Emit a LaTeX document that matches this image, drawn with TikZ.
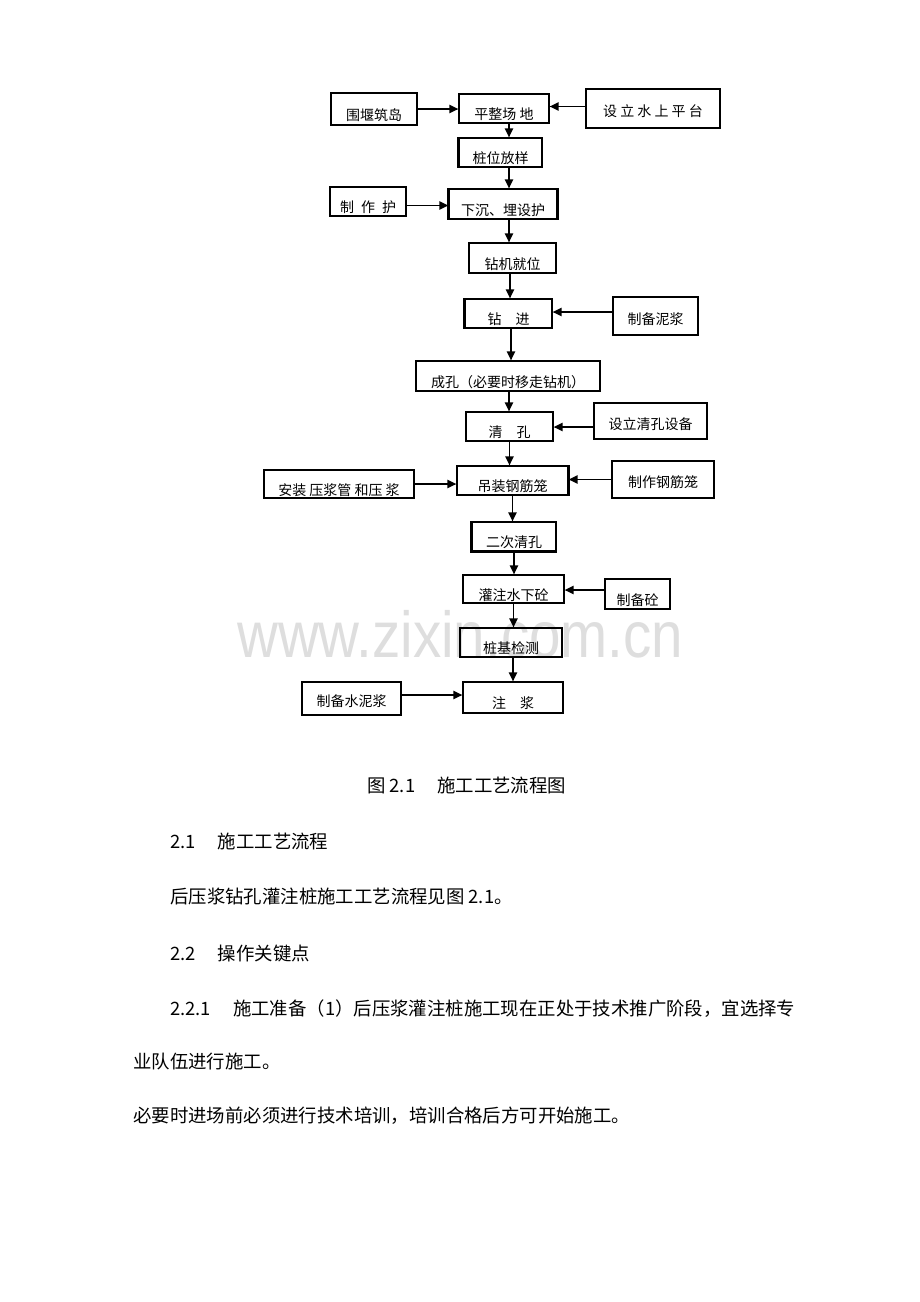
\documentclass[tikz,border=0pt]{standalone}
\usepackage{fontspec}
\newfontfamily\cjk{Noto Sans CJK SC}
\newfontfamily\wmfont{Liberation Sans}
\usetikzlibrary{arrows.meta}
\begin{document}
\begin{tikzpicture}[
 x=1pt,
 y=-1pt,
 box/.style={draw, line width=1.1pt, inner sep=0pt, font=\cjk\fontsize{14pt}{16pt}\selectfont, text height=22pt, text depth=0pt},
 side/.style={box, text height=16pt},
 flow/.style={line width=1.9pt, -{Triangle[length=9pt,width=8pt]}},
 heavy/.style={line width=2.2pt},
 body/.style={anchor=base west, inner sep=0pt, font=\cjk\fontsize{18.4pt}{21pt}\selectfont}
]
\fill[white] (0,0) rectangle (920,1302);
\useasboundingbox (0,0) rectangle (920,1302);
\node[anchor=base west, inner sep=0pt, text=black!13, font=\wmfont\fontsize{65pt}{70pt}\selectfont] (wm) at (237,657) {\scalebox{0.87}[1]{www.zixin.com.cn}};
\begin{scope}
\node[box, minimum width=86pt, minimum height=32pt] (wy) at (374,109) {围堰筑岛};
\node[box, minimum width=90pt, minimum height=29pt] (pz) at (504,108.5) {平整场 地};
\node[side, minimum width=134pt, minimum height=39pt] (sl) at (653,108.5) {设 立 水 上 平 台};
\node[box, minimum width=83pt, minimum height=29pt] (zw) at (500.5,152.5) {桩位放样};
\node[box, minimum width=76pt, minimum height=29pt] (zh) at (368,201.5) {制\hspace{.5em}作\hspace{.5em}护};
\node[box, minimum width=108pt, minimum height=30pt] (xc) at (503,204) {下沉、埋设护};
\node[box, minimum width=87pt, minimum height=30pt] (zjw) at (512.5,258) {钻机就位};
\node[box, minimum width=87pt, minimum height=29pt] (zjin) at (508.5,313.5) {钻\quad 进};
\node[side, minimum width=85pt, minimum height=38pt] (nj) at (655.5,316) {制备泥浆};
\node[box, minimum width=184pt, minimum height=30pt] (ck) at (508,376) {成孔（必要时移走钻机）};
\node[box, minimum width=87pt, minimum height=29pt] (qk) at (509.5,426.5) {清\quad 孔};
\node[side, minimum width=113pt, minimum height=36pt] (qs) at (650.5,421) {设立清孔设备};
\node[box, minimum width=150pt, minimum height=28pt] (az) at (339,484) {安装 压浆管 和压 浆};
\node[box, minimum width=111pt, minimum height=29pt] (dz) at (512.5,480.5) {吊装钢筋笼};
\node[side, minimum width=102pt, minimum height=37pt] (gl) at (663,479.5) {制作钢筋笼};
\node[box, minimum width=84pt, minimum height=29pt] (ec) at (514,536.5) {二次清孔};
\node[box, minimum width=101pt, minimum height=28pt] (gz) at (513.5,589) {灌注水下砼};
\node[box, minimum width=65pt, minimum height=30pt] (zt) at (637.5,594) {制备砼};
\node[box, minimum width=102pt, minimum height=29pt] (jc) at (511,642.5) {桩基检测};
\node[side, minimum width=99pt, minimum height=33pt] (sn) at (351.5,698.5) {制备水泥浆};
\node[box, minimum width=100pt, minimum height=31pt] (zj) at (513,697.5) {注\quad 浆};
\draw[heavy] (zw.north west) -- (zw.south west);
\draw[heavy] (xc.north west) -- (xc.south west);
\draw[heavy] (xc.north east) -- (xc.south east);
\draw[heavy] (zjin.north west) -- (zjin.south west);
\draw[heavy] (dz.north east) -- (dz.south east);
\draw[heavy] (ec.north west) -- (ec.south west) -- (ec.south east);
\end{scope}
\begin{scope}
\draw[flow] (wy.east) -- (wy.east -| pz.west);
\draw[flow] ([yshift=2pt]sl.west) -- ([yshift=2pt]sl.west -| pz.east);
\draw[flow] ([xshift=5pt]pz.south) -- ([xshift=5pt]pz.south |- zw.north);
\draw[flow] ([xshift=8.5pt]zw.south) -- ([xshift=8.5pt]zw.south |- xc.north);
\draw[flow] ([yshift=-4pt]zh.east) -- ([yshift=-4pt]zh.east -| xc.west);
\draw[flow] ([xshift=6pt]xc.south) -- ([xshift=6pt]xc.south |- zjw.north);
\draw[flow] ([xshift=-2.5pt]zjw.south) -- ([xshift=-2.5pt]zjw.south |- zjin.north);
\draw[flow] ([yshift=4pt]nj.west) -- ([yshift=4pt]nj.west -| zjin.east);
\draw[flow] ([xshift=2.5pt]zjin.south) -- ([xshift=2.5pt]zjin.south |- ck.north);
\draw[flow] ([xshift=1pt]ck.south) -- ([xshift=1pt]ck.south |- qk.north);
\draw[flow] ([yshift=-6pt]qs.west) -- ([yshift=-6pt]qs.west -| qk.east);
\draw[flow] (qk.south) -- (qk.south |- dz.north);
\draw[flow] (az.east) -- (az.east -| dz.west);
\draw[flow] (gl.west) -- (gl.west -| dz.east);
\draw[flow] (dz.south) -- (dz.south |- ec.north);
\draw[flow] (ec.south) -- (ec.south |- gz.north);
\draw[flow] ([yshift=4pt]zt.west) -- ([yshift=4pt]zt.west -| gz.east);
\draw[flow] (gz.south) -- (gz.south |- jc.north);
\draw[flow] ([xshift=2pt]jc.south) -- ([xshift=2pt]jc.south |- zj.north);
\draw[flow] ([yshift=3.5pt]sn.east) -- ([yshift=3.5pt]sn.east -| zj.west);
\end{scope}
\node[body] (cap) at (367,792) {图 2.1\hspace{1.2em}施工工艺流程图};
\node[body] (s21) at (170,848) {2.1\hspace{1.2em}施工工艺流程};
\node[body] (p1) at (170,903) {后压浆钻孔灌注桩施工工艺流程见图 2.1。};
\node[body] (s22) at (170,960) {2.2\hspace{1.2em}操作关键点};
\node[body] (p2) at (170,1015) {2.2.1\hspace{1.2em}施工准备（1）后压浆灌注桩施工现在正处于技术推广阶段，宜选择专};
\node[body] (p3) at (133,1068) {业队伍进行施工。};
\node[body] (p4) at (133,1122) {必要时进场前必须进行技术培训，培训合格后方可开始施工。};
\end{tikzpicture}
\end{document}
